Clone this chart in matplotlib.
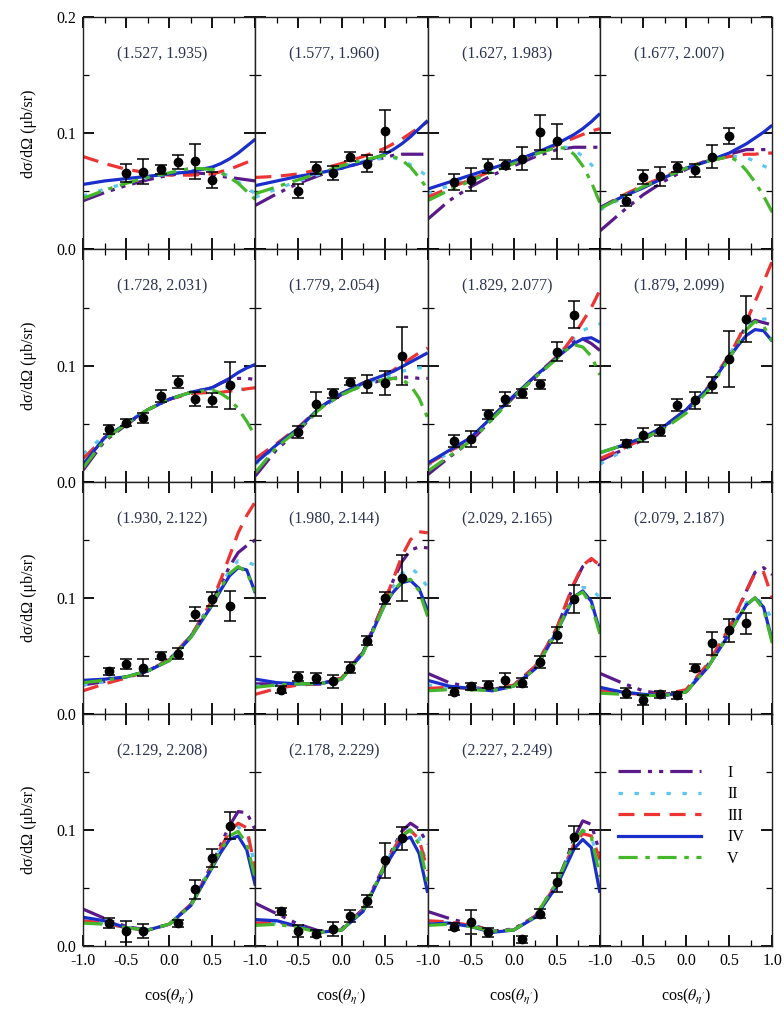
import numpy as np
import matplotlib
matplotlib.use("Agg")
import matplotlib.pyplot as plt
from matplotlib.ticker import MultipleLocator, FixedLocator

plt.rcParams["font.family"] = ["Liberation Serif", "DejaVu Serif"]
plt.rcParams["mathtext.fontset"] = "stix"

# energy bins shown in each panel
panel_labels = [
    "(1.527, 1.935)", "(1.577, 1.960)", "(1.627, 1.983)", "(1.677, 2.007)",
    "(1.728, 2.031)", "(1.779, 2.054)", "(1.829, 2.077)", "(1.879, 2.099)",
    "(1.930, 2.122)", "(1.980, 2.144)", "(2.029, 2.165)", "(2.079, 2.187)",
    "(2.129, 2.208)", "(2.178, 2.229)", "(2.227, 2.249)",
]

# measured points
data_x = [
    [-0.5, -0.3, -0.1, 0.1, 0.3, 0.5],
    [-0.5, -0.3, -0.1, 0.1, 0.3, 0.5],
    [-0.7, -0.5, -0.3, -0.1, 0.1, 0.3, 0.5],
    [-0.7, -0.5, -0.3, -0.1, 0.1, 0.3, 0.5],
    [-0.7, -0.5, -0.3, -0.1, 0.1, 0.3, 0.5, 0.7],
    [-0.5, -0.3, -0.1, 0.1, 0.3, 0.5, 0.7],
    [-0.7, -0.5, -0.3, -0.1, 0.1, 0.3, 0.5, 0.7],
    [-0.7, -0.5, -0.3, -0.1, 0.1, 0.3, 0.5, 0.7],
    [-0.7, -0.5, -0.3, -0.1, 0.1, 0.3, 0.5, 0.7],
    [-0.7, -0.5, -0.3, -0.1, 0.1, 0.3, 0.5, 0.7],
    [-0.7, -0.5, -0.3, -0.1, 0.1, 0.3, 0.5, 0.7],
    [-0.7, -0.5, -0.3, -0.1, 0.1, 0.3, 0.5, 0.7],
    [-0.7, -0.5, -0.3, 0.1, 0.3, 0.5, 0.7],
    [-0.7, -0.5, -0.3, -0.1, 0.1, 0.3, 0.5, 0.7],
    [-0.7, -0.5, -0.3, 0.1, 0.3, 0.5, 0.7],
]
data_y = [
    [0.066, 0.067, 0.069, 0.075, 0.076, 0.060],
    [0.050, 0.070, 0.066, 0.080, 0.074, 0.102],
    [0.058, 0.060, 0.072, 0.073, 0.078, 0.101, 0.093],
    [0.042, 0.062, 0.063, 0.071, 0.068, 0.080, 0.098],
    [0.045, 0.051, 0.055, 0.074, 0.086, 0.071, 0.070, 0.083],
    [0.043, 0.067, 0.076, 0.086, 0.084, 0.085, 0.108],
    [0.035, 0.037, 0.058, 0.071, 0.076, 0.084, 0.112, 0.144],
    [0.033, 0.040, 0.044, 0.066, 0.070, 0.083, 0.106, 0.140],
    [0.037, 0.043, 0.040, 0.050, 0.052, 0.086, 0.099, 0.093],
    [0.021, 0.032, 0.031, 0.028, 0.040, 0.063, 0.100, 0.117],
    [0.019, 0.024, 0.025, 0.029, 0.027, 0.045, 0.068, 0.099],
    [0.018, 0.012, 0.017, 0.016, 0.040, 0.061, 0.072, 0.078],
    [0.020, 0.013, 0.013, 0.020, 0.049, 0.076, 0.104],
    [0.030, 0.013, 0.011, 0.015, 0.026, 0.039, 0.074, 0.093],
    [0.017, 0.021, 0.012, 0.006, 0.028, 0.055, 0.094],
]
data_err = [
    [0.008, 0.011, 0.004, 0.006, 0.015, 0.007],
    [0.006, 0.005, 0.006, 0.004, 0.007, 0.018],
    [0.007, 0.010, 0.006, 0.004, 0.010, 0.015, 0.015],
    [0.005, 0.006, 0.008, 0.004, 0.006, 0.010, 0.007],
    [0.004, 0.003, 0.004, 0.005, 0.005, 0.006, 0.006, 0.020],
    [0.005, 0.010, 0.004, 0.003, 0.008, 0.010, 0.025],
    [0.005, 0.007, 0.004, 0.006, 0.004, 0.004, 0.008, 0.012],
    [0.003, 0.006, 0.005, 0.005, 0.007, 0.007, 0.024, 0.020],
    [0.003, 0.004, 0.007, 0.003, 0.005, 0.006, 0.006, 0.013],
    [0.003, 0.004, 0.004, 0.006, 0.005, 0.004, 0.005, 0.020],
    [0.003, 0.003, 0.003, 0.006, 0.004, 0.005, 0.007, 0.012],
    [0.004, 0.004, 0.003, 0.003, 0.003, 0.010, 0.010, 0.009],
    [0.004, 0.009, 0.006, 0.003, 0.008, 0.008, 0.012],
    [0.003, 0.005, 0.003, 0.006, 0.005, 0.005, 0.015, 0.010],
    [0.003, 0.010, 0.004, 0.003, 0.004, 0.008, 0.010],
]

# model curves, sampled at curve_x
curve_x = [-1.0, -0.75, -0.5, -0.25, 0.0, 0.25, 0.5, 0.6, 0.7, 0.8, 0.9, 1.0]

model_I = [
    [0.042, 0.049, 0.055, 0.060, 0.064, 0.066, 0.065, 0.063, 0.062, 0.061, 0.060, 0.059],
    [0.038, 0.048, 0.057, 0.064, 0.070, 0.075, 0.079, 0.081, 0.082, 0.082, 0.082, 0.082],
    [0.026, 0.042, 0.054, 0.064, 0.072, 0.080, 0.086, 0.087, 0.088, 0.088, 0.088, 0.088],
    [0.016, 0.032, 0.047, 0.059, 0.069, 0.077, 0.082, 0.084, 0.086, 0.086, 0.086, 0.086],
    [0.010, 0.035, 0.049, 0.062, 0.071, 0.077, 0.081, 0.085, 0.088, 0.089, 0.089, 0.088],
    [0.005, 0.028, 0.044, 0.063, 0.075, 0.083, 0.088, 0.089, 0.090, 0.090, 0.089, 0.089],
    [0.006, 0.021, 0.035, 0.054, 0.073, 0.090, 0.107, 0.115, 0.121, 0.123, 0.119, 0.113],
    [0.018, 0.027, 0.036, 0.047, 0.061, 0.080, 0.108, 0.122, 0.134, 0.139, 0.137, 0.135],
    [0.025, 0.028, 0.032, 0.037, 0.047, 0.067, 0.097, 0.112, 0.127, 0.139, 0.145, 0.150],
    [0.026, 0.026, 0.026, 0.026, 0.031, 0.053, 0.097, 0.115, 0.131, 0.141, 0.144, 0.143],
    [0.035, 0.027, 0.023, 0.021, 0.025, 0.041, 0.074, 0.093, 0.112, 0.127, 0.133, 0.128],
    [0.035, 0.027, 0.020, 0.017, 0.020, 0.042, 0.073, 0.089, 0.106, 0.122, 0.126, 0.120],
    [0.032, 0.024, 0.017, 0.014, 0.019, 0.036, 0.071, 0.088, 0.104, 0.116, 0.115, 0.100],
    [0.037, 0.028, 0.019, 0.013, 0.015, 0.032, 0.070, 0.085, 0.099, 0.106, 0.101, 0.088],
    [0.030, 0.024, 0.019, 0.013, 0.015, 0.026, 0.055, 0.073, 0.093, 0.108, 0.105, 0.080],
]
model_II = [
    [0.046, 0.052, 0.057, 0.062, 0.065, 0.068, 0.068, 0.066, 0.063, 0.058, 0.053, 0.048],
    [0.045, 0.052, 0.059, 0.065, 0.071, 0.076, 0.079, 0.079, 0.077, 0.073, 0.068, 0.063],
    [0.048, 0.055, 0.061, 0.068, 0.075, 0.082, 0.088, 0.088, 0.086, 0.080, 0.073, 0.065],
    [0.034, 0.044, 0.054, 0.062, 0.070, 0.076, 0.080, 0.080, 0.079, 0.076, 0.072, 0.068],
    [0.024, 0.040, 0.051, 0.062, 0.071, 0.077, 0.080, 0.081, 0.081, 0.080, 0.079, 0.077],
    [0.015, 0.031, 0.046, 0.063, 0.075, 0.084, 0.090, 0.093, 0.095, 0.097, 0.098, 0.099],
    [0.014, 0.025, 0.037, 0.055, 0.074, 0.091, 0.107, 0.116, 0.124, 0.130, 0.134, 0.136],
    [0.015, 0.026, 0.036, 0.047, 0.061, 0.080, 0.108, 0.122, 0.134, 0.139, 0.140, 0.141],
    [0.025, 0.028, 0.032, 0.037, 0.047, 0.067, 0.096, 0.110, 0.124, 0.132, 0.131, 0.128],
    [0.024, 0.025, 0.026, 0.026, 0.030, 0.052, 0.095, 0.110, 0.121, 0.126, 0.120, 0.109],
    [0.025, 0.023, 0.022, 0.021, 0.024, 0.040, 0.072, 0.088, 0.102, 0.109, 0.108, 0.100],
    [0.022, 0.019, 0.017, 0.016, 0.020, 0.041, 0.070, 0.084, 0.096, 0.100, 0.095, 0.081],
    [0.022, 0.020, 0.016, 0.014, 0.019, 0.036, 0.070, 0.085, 0.098, 0.103, 0.096, 0.070],
    [0.020, 0.020, 0.017, 0.012, 0.014, 0.031, 0.069, 0.084, 0.097, 0.101, 0.094, 0.068],
    [0.020, 0.020, 0.018, 0.013, 0.014, 0.026, 0.054, 0.071, 0.089, 0.098, 0.094, 0.070],
]
model_III = [
    [0.080, 0.074, 0.069, 0.066, 0.064, 0.064, 0.065, 0.067, 0.069, 0.072, 0.075, 0.078],
    [0.062, 0.063, 0.065, 0.069, 0.074, 0.080, 0.087, 0.091, 0.095, 0.100, 0.105, 0.110],
    [0.045, 0.053, 0.060, 0.068, 0.075, 0.083, 0.090, 0.093, 0.096, 0.099, 0.102, 0.104],
    [0.036, 0.046, 0.055, 0.063, 0.071, 0.076, 0.080, 0.081, 0.082, 0.082, 0.083, 0.083],
    [0.020, 0.038, 0.050, 0.062, 0.071, 0.076, 0.077, 0.077, 0.078, 0.079, 0.080, 0.081],
    [0.020, 0.033, 0.047, 0.064, 0.076, 0.085, 0.092, 0.096, 0.101, 0.106, 0.111, 0.115],
    [0.015, 0.026, 0.037, 0.056, 0.074, 0.091, 0.108, 0.116, 0.126, 0.138, 0.150, 0.165],
    [0.020, 0.028, 0.037, 0.048, 0.062, 0.081, 0.109, 0.122, 0.138, 0.155, 0.172, 0.190],
    [0.020, 0.026, 0.031, 0.037, 0.047, 0.067, 0.098, 0.116, 0.136, 0.156, 0.171, 0.183],
    [0.017, 0.022, 0.025, 0.026, 0.031, 0.054, 0.097, 0.116, 0.136, 0.150, 0.157, 0.156],
    [0.022, 0.023, 0.022, 0.021, 0.025, 0.041, 0.074, 0.094, 0.113, 0.128, 0.134, 0.128],
    [0.020, 0.018, 0.017, 0.017, 0.021, 0.043, 0.074, 0.090, 0.106, 0.121, 0.122, 0.100],
    [0.022, 0.020, 0.016, 0.014, 0.019, 0.036, 0.070, 0.085, 0.099, 0.106, 0.102, 0.065],
    [0.020, 0.021, 0.017, 0.012, 0.014, 0.031, 0.069, 0.083, 0.096, 0.100, 0.092, 0.065],
    [0.022, 0.021, 0.018, 0.013, 0.014, 0.026, 0.054, 0.071, 0.088, 0.097, 0.095, 0.075],
]
model_IV = [
    [0.056, 0.059, 0.061, 0.063, 0.065, 0.067, 0.071, 0.074, 0.078, 0.083, 0.089, 0.095],
    [0.055, 0.059, 0.063, 0.066, 0.070, 0.075, 0.082, 0.086, 0.091, 0.097, 0.104, 0.111],
    [0.052, 0.058, 0.064, 0.070, 0.076, 0.083, 0.091, 0.095, 0.099, 0.104, 0.110, 0.117],
    [0.036, 0.045, 0.053, 0.062, 0.070, 0.076, 0.083, 0.087, 0.091, 0.096, 0.101, 0.107],
    [0.015, 0.038, 0.050, 0.062, 0.071, 0.077, 0.081, 0.085, 0.089, 0.094, 0.098, 0.101],
    [0.016, 0.032, 0.046, 0.064, 0.076, 0.085, 0.092, 0.095, 0.099, 0.103, 0.107, 0.111],
    [0.016, 0.027, 0.038, 0.056, 0.074, 0.091, 0.107, 0.113, 0.119, 0.123, 0.124, 0.120],
    [0.025, 0.031, 0.038, 0.048, 0.062, 0.080, 0.107, 0.117, 0.126, 0.131, 0.130, 0.121],
    [0.029, 0.030, 0.032, 0.037, 0.046, 0.066, 0.094, 0.107, 0.119, 0.126, 0.124, 0.104],
    [0.030, 0.027, 0.026, 0.026, 0.030, 0.053, 0.094, 0.105, 0.113, 0.115, 0.108, 0.089],
    [0.029, 0.024, 0.022, 0.020, 0.024, 0.039, 0.071, 0.086, 0.101, 0.106, 0.097, 0.071],
    [0.023, 0.019, 0.017, 0.016, 0.019, 0.040, 0.069, 0.082, 0.094, 0.100, 0.092, 0.063],
    [0.025, 0.022, 0.016, 0.014, 0.019, 0.035, 0.068, 0.081, 0.092, 0.095, 0.083, 0.052],
    [0.023, 0.022, 0.017, 0.012, 0.014, 0.030, 0.068, 0.080, 0.091, 0.094, 0.080, 0.046],
    [0.019, 0.020, 0.017, 0.012, 0.014, 0.025, 0.052, 0.068, 0.084, 0.092, 0.085, 0.046],
]
model_V = [
    [0.044, 0.051, 0.057, 0.062, 0.066, 0.070, 0.069, 0.066, 0.062, 0.057, 0.050, 0.043],
    [0.048, 0.054, 0.060, 0.066, 0.072, 0.077, 0.081, 0.080, 0.077, 0.071, 0.062, 0.052],
    [0.042, 0.051, 0.059, 0.067, 0.074, 0.082, 0.088, 0.087, 0.082, 0.072, 0.058, 0.040],
    [0.035, 0.045, 0.054, 0.062, 0.070, 0.076, 0.080, 0.076, 0.068, 0.058, 0.046, 0.032],
    [0.012, 0.036, 0.050, 0.062, 0.071, 0.077, 0.079, 0.076, 0.071, 0.063, 0.052, 0.039],
    [0.008, 0.030, 0.045, 0.063, 0.075, 0.083, 0.088, 0.089, 0.088, 0.083, 0.072, 0.055],
    [0.009, 0.022, 0.035, 0.054, 0.073, 0.090, 0.106, 0.113, 0.118, 0.116, 0.108, 0.092],
    [0.025, 0.031, 0.037, 0.046, 0.059, 0.078, 0.106, 0.119, 0.131, 0.138, 0.134, 0.121],
    [0.027, 0.029, 0.032, 0.037, 0.046, 0.066, 0.095, 0.109, 0.121, 0.127, 0.122, 0.105],
    [0.023, 0.025, 0.026, 0.026, 0.030, 0.052, 0.094, 0.106, 0.114, 0.116, 0.106, 0.084],
    [0.020, 0.021, 0.021, 0.020, 0.024, 0.039, 0.071, 0.087, 0.101, 0.105, 0.094, 0.069],
    [0.018, 0.017, 0.016, 0.016, 0.019, 0.040, 0.069, 0.082, 0.094, 0.100, 0.090, 0.061],
    [0.020, 0.019, 0.016, 0.014, 0.019, 0.035, 0.069, 0.083, 0.095, 0.099, 0.088, 0.058],
    [0.018, 0.019, 0.016, 0.012, 0.014, 0.031, 0.069, 0.083, 0.095, 0.100, 0.088, 0.055],
    [0.018, 0.019, 0.017, 0.013, 0.014, 0.026, 0.055, 0.072, 0.090, 0.100, 0.094, 0.060],
]

model_names = ["I", "II", "III", "IV", "V"]
models = [model_I, model_II, model_III, model_IV, model_V]
# colour, dash pattern
styles = [
    ("#5b1a8c", (0, (7, 2.2, 1.3, 2.2, 1.3, 2.2))),
    ("#5cc8f2", (0, (1.4, 3.6))),
    ("#ee3333", (0, (5, 3))),
    ("#1a2ecc", "-"),
    ("#44b82a", (0, (6, 2.4, 1.4, 2.4))),
]

fig, axes = plt.subplots(4, 4, figsize=(7.84, 10.11), dpi=100)
fig.subplots_adjust(left=0.106, right=0.985, top=0.983, bottom=0.064,
                    wspace=0, hspace=0)

label_color = "#2a3350"
fs = 11.5

for i, ax in enumerate(axes.flat):
    row, col = divmod(i, 4)
    ax.set_xlim(-1, 1)
    ax.set_ylim(0, 0.2)
    ax.xaxis.set_major_locator(FixedLocator([-1, -0.5, 0, 0.5, 1]))
    ax.xaxis.set_minor_locator(MultipleLocator(0.25))
    ax.yaxis.set_major_locator(FixedLocator([0, 0.1, 0.2]))
    ax.yaxis.set_minor_locator(MultipleLocator(0.05))
    ax.tick_params(which="both", direction="in", top=True, right=True,
                   labelsize=fs, pad=5)
    ax.tick_params(which="major", length=8, width=1.3)
    ax.tick_params(which="minor", length=4.5, width=0.9)
    for sp in ax.spines.values():
        sp.set_linewidth(1.0)
        sp.set_color("#222222")

    if col == 0:
        ylabs = ["0.0", "0.1", "0.2" if row == 0 else ""]
        ax.set_yticklabels(ylabs)
        ax.set_ylabel("dσ/dΩ (μb/sr)", fontsize=fs, labelpad=14)
    else:
        ax.set_yticklabels([])
    if row == 3:
        xlabs = ["-1.0", "-0.5", "0.0", "0.5", "1.0" if col == 3 else ""]
        ax.set_xticklabels(xlabs)
        ax.set_xlabel(r"cos($\theta_{\eta'}$)", fontsize=fs, labelpad=13)
    else:
        ax.set_xticklabels([])

    if i < 15:
        for name, m, (c, ls) in zip(model_names, models, styles):
            ax.plot(curve_x, m[i], color=c, ls=ls, lw=2.3, label=name,
                    solid_capstyle="butt", dash_capstyle="butt")
        ax.errorbar(data_x[i], data_y[i], yerr=data_err[i], fmt="o",
                    color="black", ms=6, elinewidth=1.1, capsize=4,
                    capthick=1.1, zorder=10)
        ax.text(0.46, 0.84, panel_labels[i], transform=ax.transAxes,
                ha="center", va="center", fontsize=fs, color=label_color)
    else:
        for name, (c, ls) in zip(model_names, styles):
            ax.plot([], [], color=c, ls=ls, lw=2.3, label=name)
        ax.legend(loc="upper left", bbox_to_anchor=(0.07, 0.81), frameon=False,
                  handlelength=5.2, handletextpad=1.6, labelspacing=0.35,
                  fontsize=fs, borderaxespad=0)

fig.savefig("out.png", dpi=100)
